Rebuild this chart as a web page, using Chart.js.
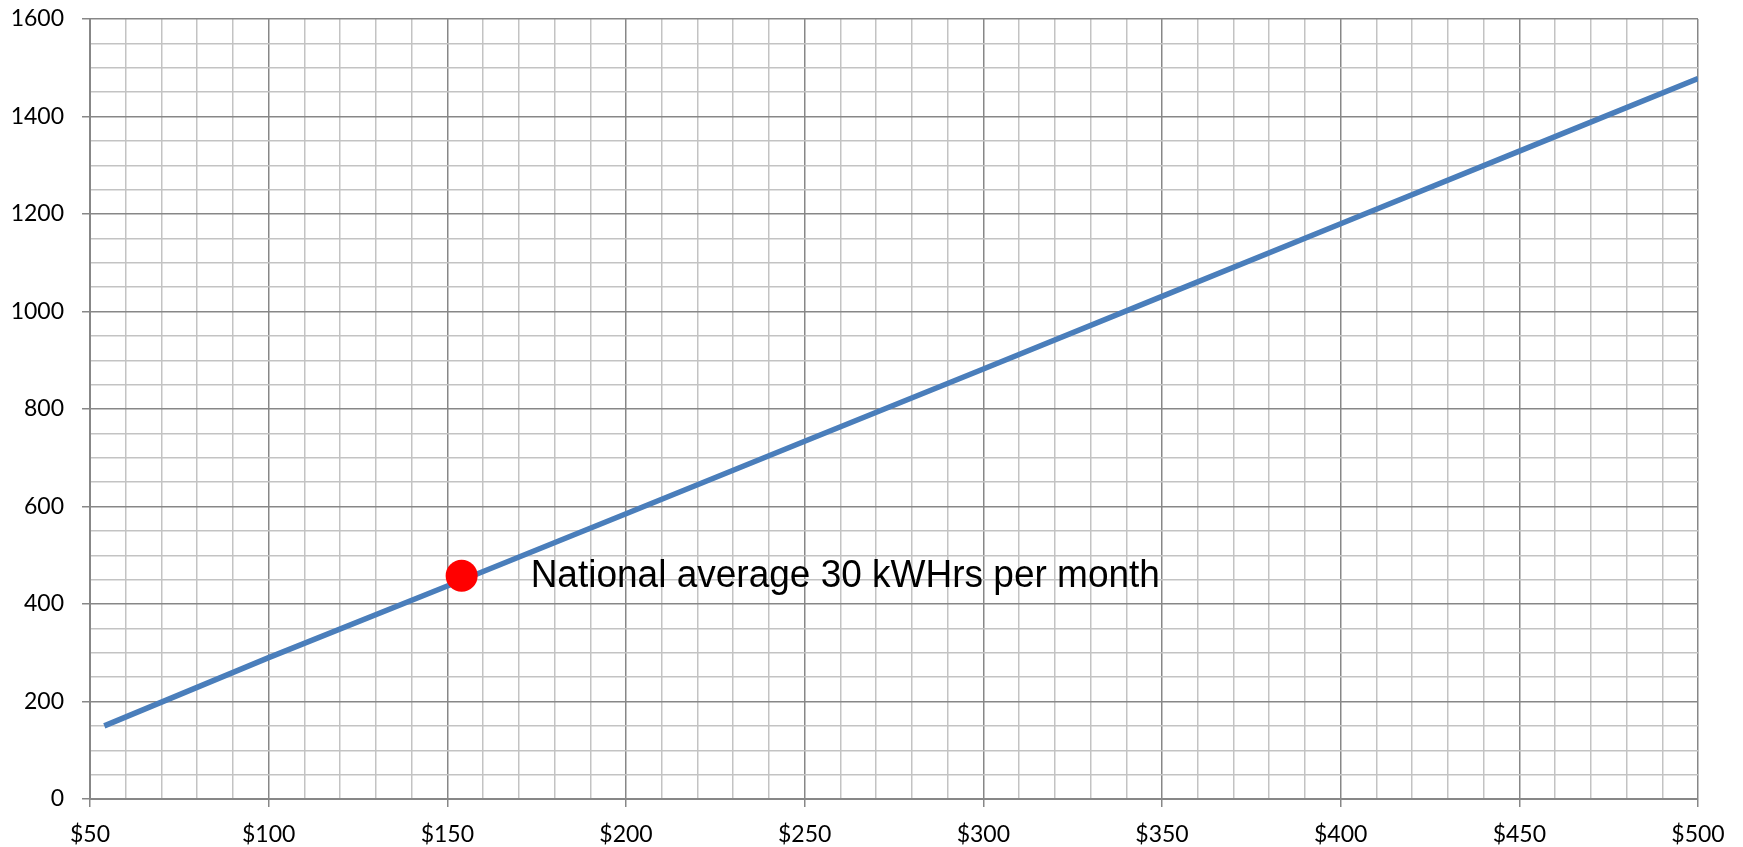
<!DOCTYPE html>
<html>
<head>
<meta charset="utf-8">
<title>Monthly bill vs kWh</title>
<script src="https://cdn.jsdelivr.net/npm/chart.js@4/dist/chart.umd.min.js"></script>
<style>
  html, body { margin: 0; padding: 0; background: #fff; }
  #wrap { width: 1743px; height: 847px; }
</style>
</head>
<body>
<div id="wrap"><canvas id="chart" width="1743" height="847"></canvas></div>
<script>
// Values.
const billDollars = [54, 100, 150, 200, 250, 300, 350, 400, 450, 500];
const kwhPerMonth = [150, 290, 437, 585, 734, 882, 1031, 1180, 1329, 1478];

const avgBill = [154];
const avgKwh = [458];
const avgLabel = "National average 30 kWHrs per month";

const X_MIN = 50, X_MAX = 500, X_STEP = 10, X_MAJOR = 50;
const Y_MIN = 0, Y_MAX = 1600, Y_STEP = 50, Y_MAJOR = 200;

const LINE_COLOR = "#4a7ebb";
const MAJOR_GRID = "#878787";
const MINOR_GRID = "#c3c3c3";
const TICK_FONT = { family: "Lato, 'Open Sans', sans-serif", size: 23 };

const isMajor = (v, step) => Math.abs(v / step - Math.round(v / step)) < 1e-6;

// Draws the text note to the right of the average point
// (slightly stretched vertically, like the original's narrow type).
const noteLabel = {
  id: "noteLabel",
  afterDatasetsDraw(chart) {
    const { ctx, scales } = chart;
    const x = scales.x.getPixelForValue(avgBill[0]) + 69;
    const y = scales.y.getPixelForValue(avgKwh[0]);
    ctx.save();
    ctx.translate(x, y);
    ctx.scale(1, 1.07);
    ctx.font = "37px 'Liberation Sans', Arial, sans-serif";
    ctx.fillStyle = "#000";
    ctx.textBaseline = "middle";
    ctx.fillText(avgLabel, 0, 0);
    ctx.restore();
  },
};

new Chart(document.getElementById("chart"), {
  type: "scatter",
  data: {
    datasets: [
      {
        data: billDollars.map((b, i) => ({ x: b, y: kwhPerMonth[i] })),
        showLine: true,
        borderColor: LINE_COLOR,
        borderWidth: 5.5,
        pointRadius: 0,
        order: 2,
      },
      {
        data: avgBill.map((b, i) => ({ x: b, y: avgKwh[i] })),
        pointRadius: 16,
        pointBackgroundColor: "#ff0000",
        pointBorderWidth: 0,
        order: 1,
      },
    ],
  },
  options: {
    responsive: false,
    animation: false,
    layout: { padding: { left: 0, right: 45, top: 19, bottom: 0 } },
    plugins: { legend: { display: false }, tooltip: { enabled: false } },
    scales: {
      x: {
        type: "linear",
        min: X_MIN,
        max: X_MAX,
        afterFit: (s) => { s.height = 48; s.paddingLeft = 0; s.paddingRight = 0; },
        ticks: {
          stepSize: X_STEP,
          autoSkip: false,
          maxRotation: 0,
          color: "#000",
          font: TICK_FONT,
          padding: 14,
          callback: (v) => (isMajor(v, X_MAJOR) ? "$" + v : ""),
        },
        grid: {
          color: (c) => (isMajor(c.tick.value, X_MAJOR) ? MAJOR_GRID : MINOR_GRID),
          lineWidth: 1.5,
          tickLength: 8,
          tickColor: (c) => (isMajor(c.tick.value, X_MAJOR) ? MAJOR_GRID : "rgba(0,0,0,0)"),
        },
        border: { color: MAJOR_GRID, width: 2 },
      },
      y: {
        min: Y_MIN,
        max: Y_MAX,
        afterFit: (s) => { s.width = 90; s.paddingTop = 0; s.paddingBottom = 0; },
        ticks: {
          stepSize: Y_STEP,
          autoSkip: false,
          color: "#000",
          font: TICK_FONT,
          padding: 18,
          callback: (v) => (isMajor(v, Y_MAJOR) ? String(v) : ""),
        },
        grid: {
          color: (c) => (isMajor(c.tick.value, Y_MAJOR) ? MAJOR_GRID : MINOR_GRID),
          lineWidth: 1.5,
          tickLength: 8,
          tickColor: (c) => (isMajor(c.tick.value, Y_MAJOR) ? MAJOR_GRID : "rgba(0,0,0,0)"),
        },
        border: { color: MAJOR_GRID, width: 2 },
      },
    },
  },
  plugins: [noteLabel],
});
</script>
</body>
</html>
